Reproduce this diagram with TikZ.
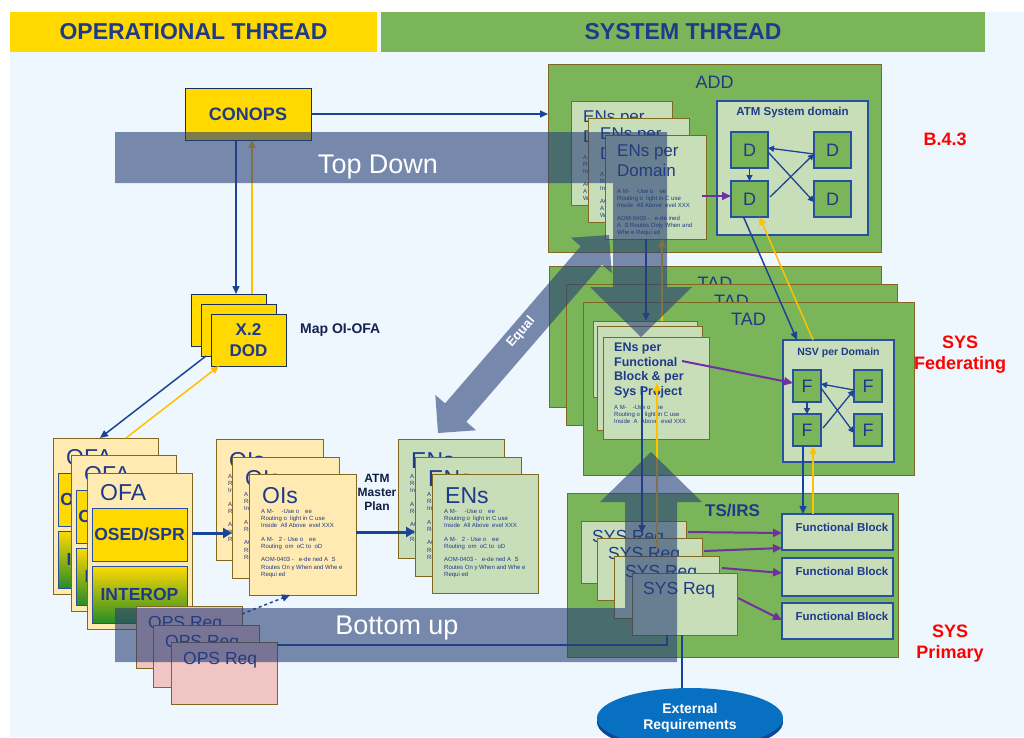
\documentclass[tikz,border=0pt]{standalone}
\usepackage{fontspec}
\setmainfont{Liberation Sans}
\usetikzlibrary{arrows.meta,shapes.geometric,calc}
\definecolor{bgblue}{RGB}{239,247,254}
\definecolor{hyellow}{RGB}{255,217,0}
\definecolor{hgreen}{RGB}{122,181,90}
\definecolor{navy}{RGB}{30,58,138}
\definecolor{olivec}{RGB}{128,104,32}
\definecolor{paleyellow}{RGB}{255,234,178}
\definecolor{palegreen}{RGB}{200,222,184}
\definecolor{lineblue}{RGB}{28,68,150}
\definecolor{linepurple}{RGB}{112,48,160}
\definecolor{lineyellow}{RGB}{255,192,0}
\definecolor{pinkbox}{RGB}{240,198,196}
\definecolor{bandc}{RGB}{40,62,120}
\definecolor{extblue}{RGB}{8,112,192}
\definecolor{extdark}{RGB}{12,72,150}
\definecolor{ofagreen}{RGB}{40,140,40}
\definecolor{boxblue}{RGB}{40,80,160}
\definecolor{redlbl}{RGB}{255,0,0}
\newcommand{\fsz}[2]{\fontsize{#1}{#2}\selectfont}
\newcommand{\bx}[7]{\node[#6,anchor=north west,inner sep=0pt,outer sep=0pt,minimum width={(#4-(#2))*1pt},minimum height={(#5-(#3))*1pt}] (#1) at (#2,#3) {#7};}
\newcommand{\tOI}{A M-\quad\ -Use o\quad ee\\Routing o\ \ light in C use\\Inside\ \ All Above\ \ evel XXX\\[6pt]A M-\ \ \ 2 - Use o\quad ee\\Routing\ \ om\ \ oC to\ \ oD\\[6pt]AOM-0403 -\ \ \ e-de ned A\ \ S\\Routes On y When and Whe e\\Requi ed}
\newcommand{\tED}{A M-\quad -Use o\quad ee\\Routing o\ \ light in C use\\Inside\ \ All Above\ \ evel XXX\\[5pt]AOM-0403 -\ \ \ e-de ined\\A\ \ S Routes Only When and\\Whe e Requi ed}
\newcommand{\tFB}{A M-\quad -Use o\quad ee\\Routing o\ \ \ light in C use\\Inside\ \ A\ \ Above\ \ evel XXX}
\begin{document}
\begin{tikzpicture}[x=1pt,y=-1pt,
 >={Triangle[length=8pt,width=7pt]},
 pbox/.style={draw=olivec,line width=1pt,fill=paleyellow},
 gpbox/.style={draw=olivec,line width=1pt,fill=palegreen},
 gbox/.style={draw=olivec,line width=1pt,fill=hgreen},
 pkbox/.style={draw=olivec,line width=1pt,fill=pinkbox},
 lgbox/.style={draw=boxblue,line width=1.2pt,fill=palegreen},
 dbox/.style={draw=boxblue,line width=1.2pt,fill=hgreen,font=\fsz{18}{20},text=navy},
 ybox/.style={draw=boxblue!60!black,line width=0.8pt,fill=hyellow},
 tinyt/.style={anchor=north west,align=left,inner sep=0pt,font=\fsz{6}{7.3},text=navy},
 bigt/.style={anchor=west,inner sep=0pt,text=navy},
 bl/.style={draw=lineblue,line width=1.5pt,->},
 bln/.style={draw=lineblue,line width=1.5pt},
 yl/.style={draw=lineyellow,line width=1.5pt,->},
 pl/.style={draw=linepurple,line width=2pt,-{Triangle[length=9pt,width=8pt]}},
 dl/.style={draw=lineblue,line width=1.3pt,-{Triangle[length=6pt,width=6pt]}},
 band/.style={fill=bandc,fill opacity=0.6},
 bandtxt/.style={text=white,inner sep=0pt},
 redl/.style={text=redlbl,font=\bfseries\fsz{18}{21},align=center}
]
\newcommand{\ofastack}[3]{%
 \bx{#1}{#2}{#3}{#2+105}{#3+156}{pbox}{}
 \node[bigt,font=\fsz{23}{26}] (#1t) at ($(#1.north west)+(13,20)$) {OFA};
 \bx{#1s}{#2+5}{#3+35}{#2+100}{#3+88}{fill=hyellow,draw=boxblue,line width=1pt,font=\bfseries\fsz{17.5}{20},text=navy}{OSED/SPR}
 \bx{#1i}{#2+5}{#3+93}{#2+100}{#3+150}{top color=hyellow,bottom color=ofagreen,draw=boxblue,line width=1pt,font=\bfseries\fsz{17.5}{20},text=navy}{INTEROP}}
\newcommand{\oibox}[3]{%
 \bx{#1}{#2}{#3}{#2+107}{#3+121}{pbox}{}
 \node[bigt,font=\fsz{23}{26}] (#1t) at ($(#1.north west)+(13,22)$) {OIs};
 \node[tinyt] (#1x) at ($(#1.north west)+(12,35)$) {\tOI};}
\newcommand{\enbox}[3]{%
 \bx{#1}{#2}{#3}{#2+106}{#3+119}{gpbox}{}
 \node[bigt,font=\fsz{23}{26}] (#1t) at ($(#1.north west)+(13,22)$) {ENs};
 \node[tinyt] (#1x) at ($(#1.north west)+(12,35)$) {\tOI};}
\newcommand{\opsbox}[3]{%
 \bx{#1}{#2}{#3}{#2+106}{#3+62}{pkbox}{}
 \node[bigt,font=\fsz{17.5}{20}] (#1t) at ($(#1.north west)+(12,18)$) {OPS Req};}
\newcommand{\edbox}[3]{%
 \bx{#1}{#2}{#3}{#2+101}{#3+104}{gpbox}{}
 \node[anchor=north west,align=left,inner sep=0pt,font=\fsz{17}{20},text=navy] (#1t) at ($(#1.north west)+(12,10)$) {ENs per\\Domain};
 \node[tinyt] (#1x) at ($(#1.north west)+(12,54)$) {\tED};}
\newcommand{\tadbox}[5]{%
 \bx{#1}{#2}{#3}{#4}{#5}{gbox}{}
 \node[font=\fsz{18}{20},text=navy] (#1t) at ($(#1.north)+(0,17)$) {TAD};}
\newcommand{\sysbox}[3]{%
 \bx{#1}{#2}{#3}{#2+105}{#3+62}{gpbox}{}
 \node[bigt,font=\fsz{17.5}{20}] (#1t) at ($(#1.north west)+(11,17)$) {SYS Req};}
\newcommand{\fblock}[3]{%
 \bx{#1}{782}{#2}{893}{#3}{lgbox}{}
 \node[font=\bfseries\fsz{11.5}{13},text=navy] (#1t) at ($(#1.north west)+(60,13)$) {Functional Block};}

\useasboundingbox (0,0) rectangle (1024,737);
\clip (0,0) rectangle (1024,737);
\fill[white] (0,0) rectangle (1024,737);
\fill[bgblue] (10,12) rectangle (1024,737);

% headers
\bx{hop}{10}{12}{377}{52}{fill=hyellow,font=\bfseries\fsz{23}{26},text=navy}{OPERATIONAL THREAD}
\bx{hsys}{381}{12}{985}{52}{fill=hgreen,font=\bfseries\fsz{23}{26},text=navy}{SYSTEM THREAD}

% ADD
\bx{add}{548}{64}{881}{252}{gbox}{}
\node[font=\fsz{18}{20},text=navy] (addt) at ($(add.north)+(0,18)$) {ADD};
\edbox{edA}{571}{101}
\edbox{edB}{588}{118}
\edbox{edC}{605}{135}
\bx{atm}{717}{101}{868}{235}{lgbox}{}
\node[font=\bfseries\fsz{11.5}{13},text=navy] (atmt) at ($(atm.north)+(0,12)$) {ATM System domain};
\bx{d1}{731}{132}{768}{168}{dbox}{D}
\bx{d2}{731}{181}{768}{217}{dbox}{D}
\bx{d3}{814}{132}{851}{168}{dbox}{D}
\bx{d4}{814}{181}{851}{217}{dbox}{D}

% TAD
\tadbox{tadA}{549}{266}{881}{407}
\tadbox{tadB}{566}{284}{897}{425}
\tadbox{tadC}{583}{302}{914}{475}
\bx{fbA}{593}{321}{697}{397}{gpbox}{}
\bx{fbB}{597}{326}{702}{430}{gpbox}{}
\bx{fbC}{603}{337}{709}{439}{gpbox}{}
\node[anchor=north west,align=left,inner sep=0pt,font=\bfseries\fsz{12.5}{14.5},text=navy] (fbt) at ($(fbC.north west)+(11,6)$) {ENs per\\Functional\\Block \& per\\Sys Project};
\node[tinyt] (fbx) at ($(fbC.north west)+(11,68)$) {\tFB};
\bx{nsv}{783}{340}{894}{462}{lgbox}{}
\node[font=\bfseries\fsz{10.5}{12},text=navy] (nsvt) at ($(nsv.north)+(0,13)$) {NSV per Domain};
\bx{f1}{793}{370}{821}{402}{dbox}{F}
\bx{f2}{793}{414}{821}{446}{dbox}{F}
\bx{f3}{854}{370}{882}{402}{dbox}{F}
\bx{f4}{854}{414}{882}{446}{dbox}{F}

% TS/IRS
\bx{ts}{567}{493}{898}{657}{gbox}{}
\node[font=\bfseries\fsz{17}{20},text=navy] (tst) at ($(ts.north)+(0,17)$) {TS/IRS};
\sysbox{s1}{581}{521}
\sysbox{s2}{597}{538}
\sysbox{s3}{614}{556}
\sysbox{s4}{632}{573}
\fblock{fb1}{514}{550}
\fblock{fb2}{558}{596}
\fblock{fb3}{603}{639}

% left side
\bx{conops}{185}{88}{311}{140}{ybox,text=navy,font=\bfseries\fsz{18}{20}}{CONOPS}
\bx{dodA}{191}{294}{266}{346}{ybox}{}
\bx{dodB}{201}{304}{276}{356}{ybox}{}
\bx{dodC}{211}{314}{286}{366}{ybox,align=center,text=navy,font=\bfseries\fsz{17}{21}}{X.2\\DOD}
\node[anchor=west,font=\bfseries\fsz{14}{16},text=navy!60!black,inner sep=0pt] (map) at (300,330) {Map OI-OFA};
\ofastack{ofaA}{53}{438}
\ofastack{ofaB}{71}{455}
\ofastack{ofaC}{87}{473}
\oibox{oiA}{216}{439}
\oibox{oiB}{232}{457}
\oibox{oiC}{249}{474}
\enbox{enA}{398}{439}
\enbox{enB}{415}{457}
\enbox{enC}{432}{474}
\opsbox{opsA}{136}{606}
\opsbox{opsB}{153}{625}
\opsbox{opsC}{171}{642}
\node[align=center,font=\bfseries\fsz{12}{14},text=navy!50!black] (amp) at (377,492) {ATM\\Master\\Plan};

% external requirements
\node[ellipse,fill=extdark,minimum width=186pt,minimum height=60pt,inner sep=0pt] (extb) at (690,722) {};
\node[ellipse,fill=extblue,minimum width=186pt,minimum height=60pt,inner sep=0pt,align=center,text=white,font=\bfseries\fsz{14}{16}] (ext) at (690,718) {External\\Requirements};

% connectors
\draw[bl] (conops.east) -- (conops.east -| add.west);
\coordinate (c1) at ($(conops.south west)+(51,0)$);
\draw[bl] (c1) -- (c1 |- dodA.north);
\coordinate (c2) at ($(dodA.north west)+(61,0)$);
\draw[yl] (c2) -- (c2 |- conops.south);
\draw[bl] ($(dodB.south west)+(5,0)$) -- ($(ofaA.north west)+(47,0)$);
\draw[yl] ($(ofaA.north west)+(73,0)$) -- ($(dodC.south west)+(8,0)$);
\coordinate (c3) at ($(ofaC.north east)+(0,60)$);
\draw[draw=lineblue,line width=3pt,-{Triangle[length=9pt,width=10pt]}] (c3) -- (c3 -| oiB.west);
\coordinate (c4) at ($(oiC.north east)+(0,58)$);
\draw[draw=lineblue,line width=3pt,-{Triangle[length=9pt,width=10pt]}] (c4) -- (c4 -| enB.west);
\draw[draw=lineblue,line width=1.5pt,dashed,->] ($(opsA.north east)+(0,8)$) -- ($(oiC.south west)+(41,0)$);
\coordinate (c5) at ($(s4.south west)+(35,0)$);
\draw[bln] ($(opsC.north east)+(0,3)$) -| (c5);
\coordinate (c6) at ($(s4.south west)+(50,0)$);
\draw[bln] (c6) -- (c6 |- ext.north);

\draw[pl] ($(d2.west)+(-29,-3)$) -- ($(d2.west)+(0,-3)$);
\draw[dl] (d1.south) -- (d2.north);
\draw[dl] ($(d3.west)+(0,4)$) -- ($(d1.east)+(0,-2)$);
\draw[dl] ($(d1.east)+(0,2)$) -- ($(d4.west)+(0,3)$);
\draw[dl] ($(d2.east)+(2,-2)$) -- ($(d3.west)+(0,4)$);
\draw[bl] ($(d2.south)+(-6,0)$) -- ($(nsv.north west)+(14,0)$);
\draw[yl] ($(nsv.north west)+(30,0)$) -- ($(d2.south)+(10,0)$);
\coordinate (c7) at ($(edC.south west)+(41,0)$);
\draw[bl] (c7) -- (c7 |- fbA.north);
\coordinate (c8) at ($(fbA.north west)+(69,0)$);
\draw[yl] (c8) -- (c8 |- edC.south);

\draw[pl] ($(fbC.north west)+(79,24)$) -- ($(f1.west)+(0,-3)$);
\draw[dl] (f1.south) -- (f2.north);
\draw[dl] ($(f3.west)+(0,4)$) -- ($(f1.east)+(0,-2)$);
\draw[dl] ($(f1.east)+(0,2)$) -- ($(f4.west)+(0,3)$);
\draw[dl] ($(f2.east)+(2,-2)$) -- ($(f3.west)+(0,4)$);
\coordinate (c9) at ($(f2.south)+(-4,0)$);
\draw[bl] (c9) -- (c9 |- fb1.north);
\coordinate (c10) at ($(fb1.north west)+(31,0)$);
\draw[yl] (c10) -- (c10 |- f2.south);

\draw[bl] ($(fbC.north west)+(39,49)$) -- ($(s1.north west)+(61,12)$);
\draw[yl] ($(s2.north west)+(60,12)$) -- ($(fbC.north west)+(54,46)$);
\draw[pl] ($(s1.north east)+(2,11)$) -- ($(fb1.north west)+(0,19)$);
\draw[pl] ($(s2.north east)+(2,13)$) -- ($(fb1.north west)+(0,34)$);
\draw[pl] ($(s3.north east)+(3,12)$) -- ($(fb2.north west)+(0,15)$);
\draw[pl] ($(s4.north east)+(1,25)$) -- ($(fb3.north west)+(0,17)$);

% red labels
\node[redl] (b43) at (945,139) {B.4.3};
\node[redl] (sysf) at (960,355) {SYS\\Federating};
\node[redl] (sysp) at (950,644) {SYS\\Primary};

% bands
\path[band] (115,132) -- (667,132) -- (667,287) -- (692,287) -- (641,337) -- (590,287) -- (613,287) -- (613,183) -- (115,183) -- cycle;
\path[band] (115,608) -- (625,608) -- (625,502) -- (600,502) -- (651,452) -- (702,502) -- (677,502) -- (677,662) -- (115,662) -- cycle;
\path[band] (466.3,421.8) -- (476.1,430.3) -- (438,433) -- (435.3,394.9) -- (445.1,403.4) -- (580.7,246.2) -- (570.9,237.7) -- (609,235) -- (611.7,273.1) -- (601.9,264.6) -- cycle;
\node[bandtxt,anchor=base,font=\fsz{27}{30}] (tdt) at (378,173) {Top Down};
\node[bandtxt,anchor=base,font=\fsz{27}{30}] (but) at (397,634) {Bottom up};
\node[bandtxt,rotate=49,font=\bfseries\fsz{13}{15}] (eqt) at (521,332) {Equal};
\end{tikzpicture}
\end{document}
